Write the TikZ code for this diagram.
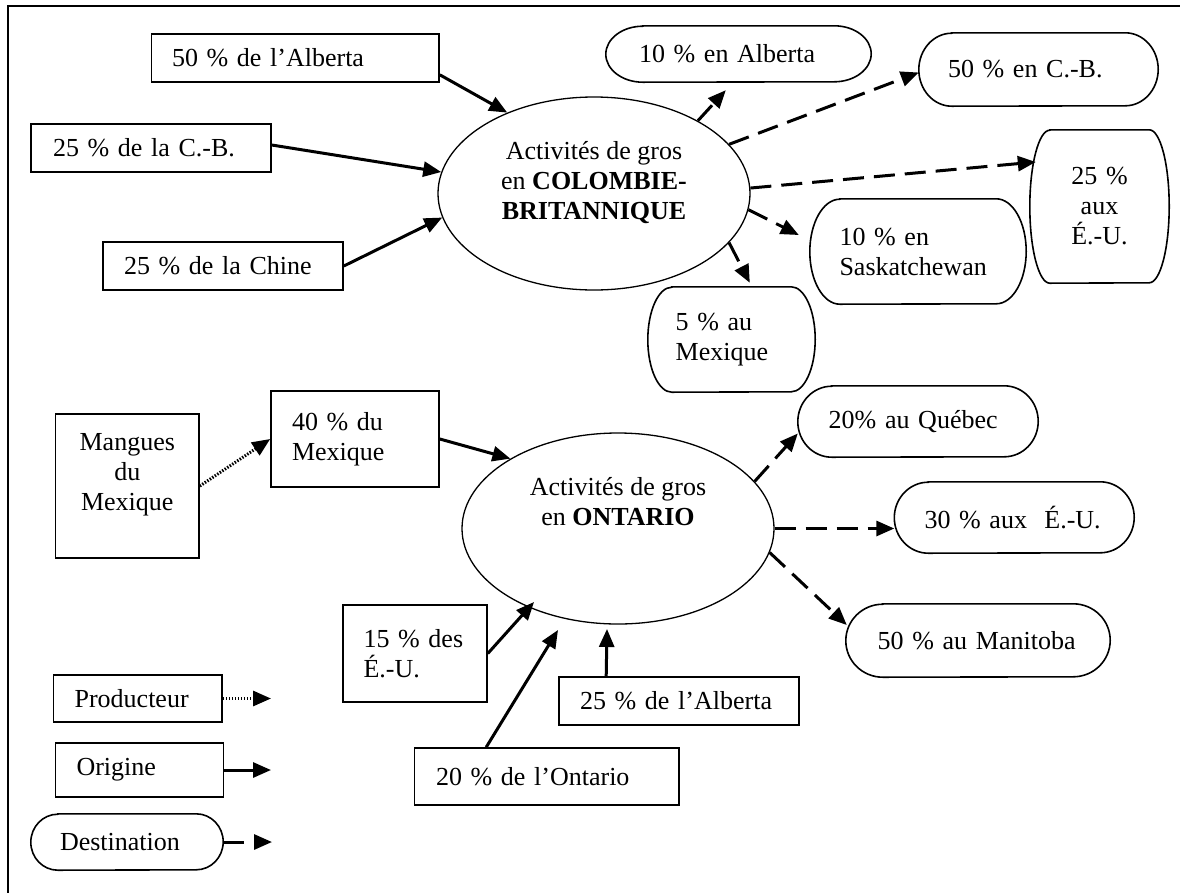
\documentclass[tikz,border=0pt]{standalone}
\usepackage{fontspec}
\setmainfont{Liberation Serif}
\usetikzlibrary{arrows.meta,calc,shapes.geometric}

\tikzset{
  every node/.style={font=\fontsize{26}{30}\selectfont, inner ysep=0pt},
  rbox/.style={draw, line width=1.6pt, rectangle, align=left},
  tbox/.style={rectangle, align=left},
  oval/.style={draw, line width=1.3pt, ellipse, inner sep=0pt, minimum width=312pt},
  termline/.style={line width=1.6pt},
  originarrow/.style={line width=3pt, -{Triangle[length=18pt,width=15pt]}},
  destarrow/.style={line width=3pt, dash pattern=on 21pt off 10pt, -{Triangle[length=18pt,width=15pt]}},
  prodarrow/.style={line width=3pt, dash pattern=on 1.5pt off 1.5pt, -{Triangle[length=18pt,width=15pt]}},
}

\newcommand\termout[3]{%
  \draw[termline] ($(#1.north west)+(#2,0)$) -- ($(#1.north east)+(-#2,0)$)
    arc[start angle=90,end angle=-90,x radius=#2pt,y radius=#3pt]
    -- ($(#1.south west)+(#2,0)$)
    arc[start angle=270,end angle=90,x radius=#2pt,y radius=#3pt] -- cycle;}

\begin{document}
\begin{tikzpicture}[x=1pt,y=-1pt]
\useasboundingbox (0,0) rectangle (1180,892);
\draw[line width=2pt] (1181,6) -- (7.7,6) -- (7.7,893);

% ---- British Columbia ----
\node[oval, minimum height=193pt] (bc) at (594,193.5)
  {\raisebox{4pt}[0pt][0pt]{\begin{tabular}{@{}c@{}}Activités de gros\\en \textbf{COLOMBIE-}\\\textbf{BRITANNIQUE}\end{tabular}}};

\node[rbox, text width=246.5pt, inner xsep=20.5pt, minimum height=48pt] (a50) at (295.25,58) {50 \% de l’Alberta};
\node[rbox, text width=196pt, inner xsep=22pt, minimum height=48pt] (cb25) at (151,148) {25 \% de la C.-B.};
\node[rbox, text width=198pt, inner xsep=21pt, minimum height=48pt] (ch25) at (223,266) {25 \% de la Chine};

\node[tbox, text width=199pt, inner xsep=33pt, minimum height=56pt] (t10a) at (738.5,54) {10 \% en Alberta};
\node[tbox, text width=181pt, inner xsep=29pt, minimum height=73pt] (t50cb) at (1038.5,69.5) {50 \% en C.-B.};
\node[tbox, align=center, text width=119pt, inner xsep=10pt, minimum height=153pt] (t25eu) at (1099.5,206.5) {25 \%\\aux\\É.-U.};
\node[tbox, text width=157pt, inner xsep=29.5pt, minimum height=105pt] (tsk) at (918,251.5) {10 \% en\\Saskatchewan};
\node[tbox, text width=111.6pt, inner xsep=27.7pt, minimum height=105pt] (tmx) at (731.5,339.5) {5 \% au\\Mexique};

\termout{t10a}{37}{28}
\termout{t50cb}{33}{36.5}
\termout{t25eu}{20}{76.5}
\termout{tsk}{30}{52.5}
\termout{tmx}{24}{52.5}

\draw[originarrow] ($(a50.south east)+(0,-8)$) -- (bc.137);
\draw[originarrow] ($(cb25.east)+(0,-3)$) -- (bc.172);
\draw[originarrow] (ch25.east) -- (bc.189);

\draw[destarrow] (bc.35) -- ($(t10a.south west)+(120,8)$);
\draw[destarrow] (bc.20) -- ($(t50cb.west)+(0,3)$);
\draw[destarrow] (bc.2) -- ($(t25eu.west)+(6,-44.5)$);
\draw[destarrow] (bc.-6) -- ($(tsk.west)+(-11,-16.5)$);
\draw[destarrow] (bc.-20) -- ($(tmx.north west)+(102,-4)$);

% ---- Ontario ----
\node[oval, minimum height=191pt] (ont) at (618,528.5)
  {\raisebox{18pt}[0pt][0pt]{\begin{tabular}{@{}c@{}}Activités de gros\\en \textbf{ONTARIO}\end{tabular}}};

\node[draw, line width=1.6pt, minimum width=143.5pt, minimum height=144pt, inner sep=0pt] (mang) at (127.25,486)
  {\raisebox{5.5pt}[0pt][0pt]{\begin{tabular}{@{}c@{}}Mangues\\du\\Mexique\end{tabular}}};
\node[rbox, text width=126pt, inner xsep=21pt, minimum height=96pt] (mx40) at (355,439) {40 \% du\\Mexique};
\node[rbox, text width=103pt, inner xsep=20.5pt, minimum height=97pt] (eu15) at (415,653.5) {15 \% des\\É.-U.};
\node[rbox, text width=221.5pt, inner xsep=21.5pt, minimum height=57pt] (on20) at (546.75,776.5) {20 \% de l’Ontario};
\node[rbox, text width=198pt, inner xsep=21pt, minimum height=48pt] (al25) at (679,701) {25 \% de l’Alberta};

\node[tbox, text width=178.6pt, inner xsep=30.7pt, minimum height=71pt] (tqc) at (918,421.5) {20\% au Québec};
\node[tbox, text width=179.5pt, inner xsep=30pt, minimum height=71pt] (teu30) at (1014.25,517.5) {30 \% aux\ \ É.-U.};
\node[tbox, text width=200.6pt, inner xsep=31.7pt, minimum height=73pt] (tman) at (978,640.5) {50 \% au Manitoba};

\termout{tqc}{34}{35.5}
\termout{teu30}{34}{35.5}
\termout{tman}{37}{36.5}

\draw[prodarrow] (mang.east) -- (mx40.west);
\draw[originarrow] (mx40.east) -- (ont.147);
\draw[originarrow] (eu15.east) -- ($(ont.center)+(-84,73.5)$);
\draw[originarrow] ($(on20.north west)+(72.5,0)$) -- ($(ont.center)+(-60,101.5)$);
\draw[originarrow] ($(al25.north west)+(48,0)$) -- ($(ont.center)+(-11,100.5)$);

\draw[destarrow] (ont.19) -- ($(tqc.west)+(0,12)$);
\draw[destarrow] (ont.east) -- ($(teu30.west)+(0,11)$);
\draw[destarrow] (ont.-9) -- ($(tman.west)+(1,-15.5)$);

% ---- Legend ----
\node[rbox, text width=126.4pt, inner xsep=21pt, minimum height=47pt] (prod) at (137.8,698.5) {Producteur};
\node[rbox, text width=126pt, inner xsep=21pt, minimum height=54pt] (orig) at (139.5,770) {Origine};
\node[tbox, text width=134pt, inner xsep=29pt, minimum height=56pt] (tdest) at (127,842) {Destination};
\termout{tdest}{27}{28}

\coordinate (lp) at (271,698.5);
\coordinate (lo) at (271,770);
\coordinate (ld) at (272,842);
\draw[prodarrow] (prod.east) -- (lp);
\draw[originarrow] (orig.east) -- (lo);
\draw[destarrow] (tdest.east) -- (ld);
\end{tikzpicture}
\end{document}
